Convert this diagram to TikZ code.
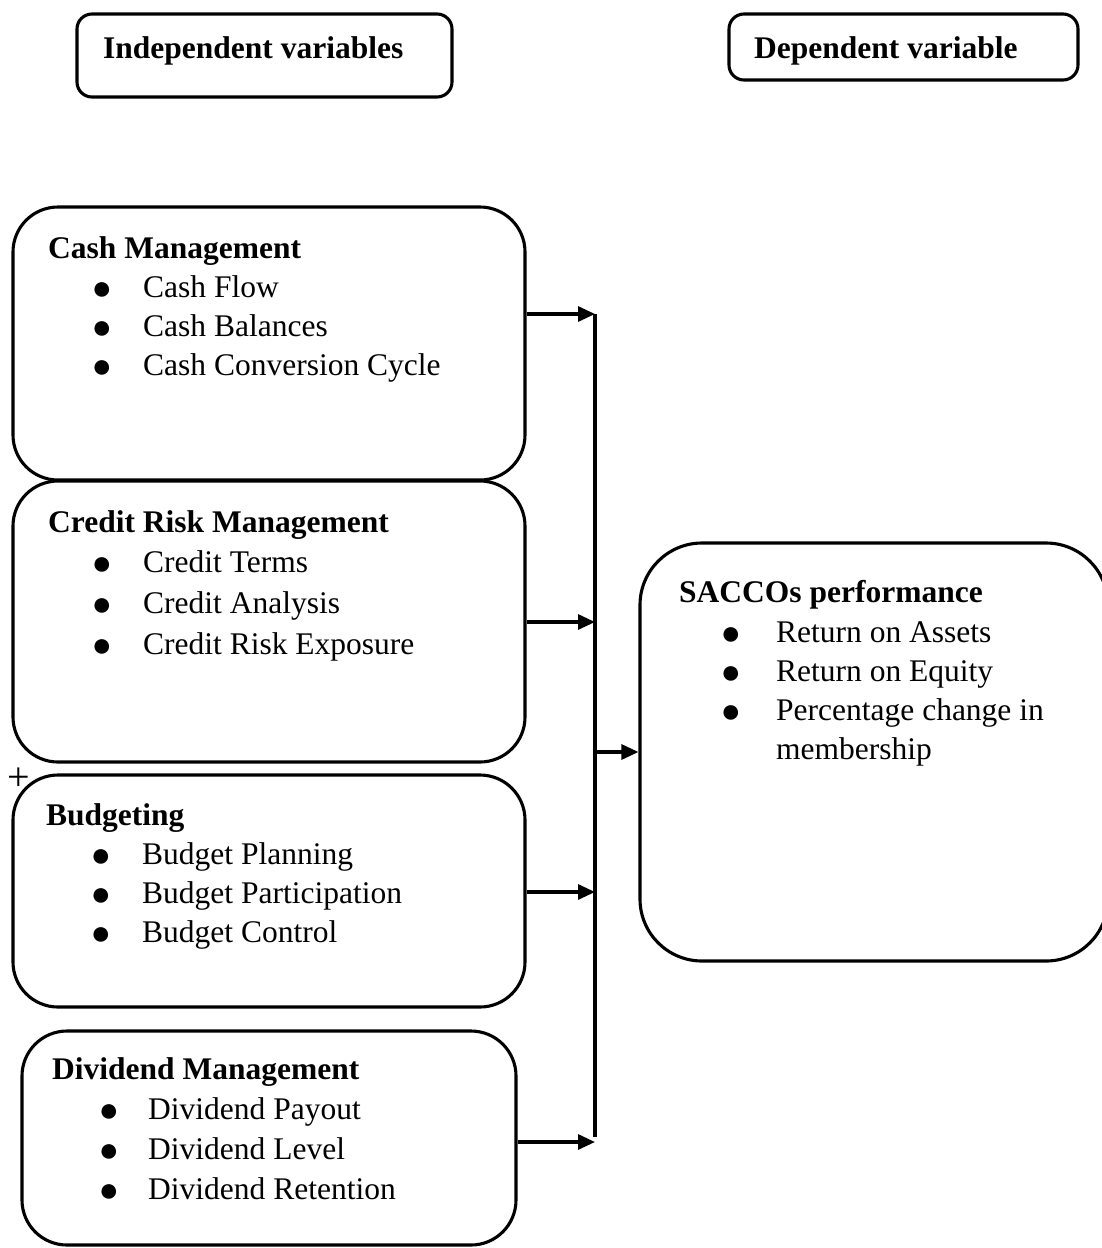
\documentclass[tikz,border=0pt]{standalone}
\usepackage{fontspec}
\setmainfont{Liberation Serif}
\usetikzlibrary{arrows.meta}
\newcommand{\bodysize}{\fontsize{31.5pt}{39pt}\selectfont}
\newcommand{\itembullet}[1][31pt]{\llap{\raisebox{-2.5pt}{\fontsize{34pt}{34pt}\selectfont ●}\hspace{#1}}}

\begin{document}
\begin{tikzpicture}[x=1pt, y=-1pt,
    box/.style={draw, line width=3.1pt, rounded corners=45pt, inner sep=0pt},
    title/.style={anchor=base west, font=\bodysize\bfseries, inner sep=0pt},
    item/.style={anchor=base west, font=\bodysize, inner sep=0pt},
    link/.style={line width=3.1pt},
    arr/.style={line width=3.1pt, -{Triangle[length=17pt,width=15pt]}}]
    \useasboundingbox (0,0) rectangle (1102,1248);
    \clip (0,0) rectangle (1102,1248);

    % Headings
    \node[box, rounded corners=15pt, minimum width=375pt, minimum height=83pt] (indep) at (264.5,55.5) {};
    \node[title] (indepT) at (103,58) {Independent variables};
    \node[box, rounded corners=15pt, minimum width=349pt, minimum height=66pt] (dep) at (903.5,47) {};
    \node[title] (depT) at (754,58) {Dependent variable};

    % Cash management
    \node[box, minimum width=512pt, minimum height=273pt] (cash) at (269,343.5) {};
    \node[title] (cashT) at (48,258) {Cash Management};
    \node[item] (cash1) at (143,297) {\itembullet Cash Flow};
    \node[item] (cash2) at (143,336) {\itembullet Cash Balances};
    \node[item] (cash3) at (143,375) {\itembullet Cash Conversion Cycle};

    % Credit risk management
    \node[box, minimum width=512pt, minimum height=281pt] (credit) at (269,621.5) {};
    \node[title] (creditT) at (48,532) {Credit Risk Management};
    \node[item] (credit1) at (143,572) {\itembullet Credit Terms};
    \node[item] (credit2) at (143,613) {\itembullet Credit Analysis};
    \node[item] (credit3) at (143,654) {\itembullet Credit Risk Exposure};

    % Budgeting
    \node[font=\fontsize{40pt}{40pt}\selectfont, inner sep=0pt] (plus) at (19,779) {+};
    \node[box, minimum width=512pt, minimum height=232pt] (budget) at (269,891) {};
    \node[title] (budgetT) at (46,825) {Budgeting};
    \node[item] (budget1) at (142,864) {\itembullet Budget Planning};
    \node[item] (budget2) at (142,903) {\itembullet Budget Participation};
    \node[item] (budget3) at (142,942) {\itembullet Budget Control};

    % Dividend management
    \node[box, minimum width=494pt, minimum height=214pt] (dividend) at (269,1138) {};
    \node[title] (dividendT) at (52,1079) {Dividend Management};
    \node[item] (dividend1) at (148,1119) {\itembullet[29pt]Dividend Payout};
    \node[item] (dividend2) at (148,1159) {\itembullet[29pt]Dividend Level};
    \node[item] (dividend3) at (148,1199) {\itembullet[29pt]Dividend Retention};

    % SACCOs performance
    \node[box, rounded corners=62pt, minimum width=468pt, minimum height=418pt] (perf) at (874,752) {};
    \node[title] (perfT) at (679,602) {SACCOs performance};
    \node[item] (perf1) at (776,642) {\itembullet[35pt]Return on Assets};
    \node[item] (perf2) at (776,681) {\itembullet[35pt]Return on Equity};
    \node[item] (perf3) at (776,720) {\itembullet[35pt]Percentage change in};
    \node[item] (perf4) at (776,759) {membership};

    % Connectors
    \coordinate (jc) at (595,314);
    \coordinate (jk) at (595,622);
    \coordinate (jm) at (595,752);
    \coordinate (jb) at (595,892);
    \coordinate (jd) at (595,1142);
    \coordinate (jend) at (595,1137);
    \draw[link] (jc) -- (jend);
    \draw[arr] (cash.east |- jc) -- (jc);
    \draw[arr] (credit.east |- jk) -- (jk);
    \draw[arr] (budget.east |- jb) -- (jb);
    \draw[arr] (dividend.east |- jd) -- (jd);
    \draw[arr] (jm) -- (perf.west |- jm);
\end{tikzpicture}
\end{document}
